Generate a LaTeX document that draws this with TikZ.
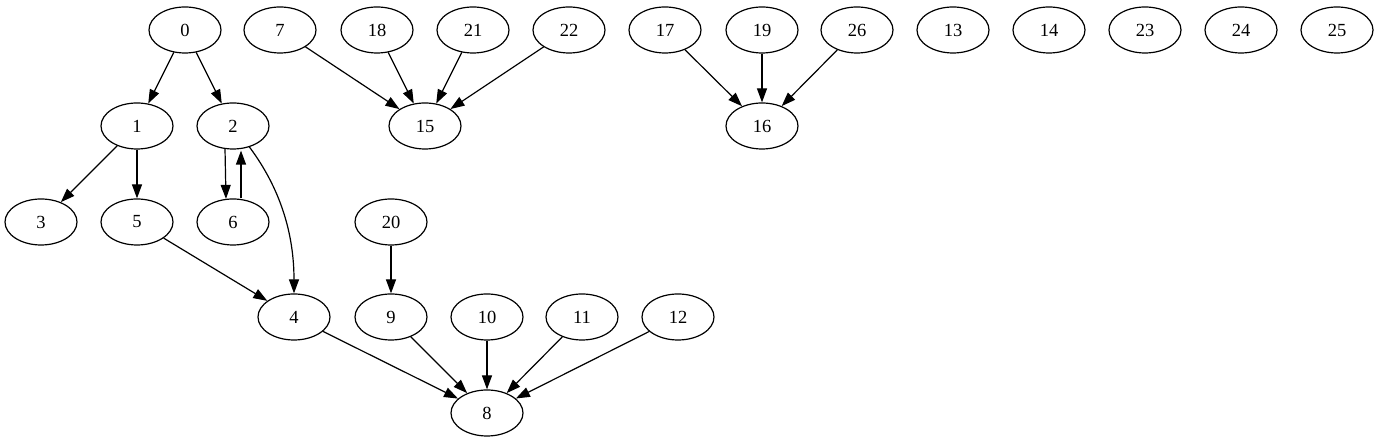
\documentclass[tikz,border=0pt]{standalone}
\usepackage{fontspec}
\setmainfont{Liberation Serif}
\usetikzlibrary{arrows.meta,shapes.geometric}
\begin{document}
\begin{tikzpicture}[x=1pt,y=1pt,
  vtx/.style={draw,ellipse,line width=1.2pt,minimum width=72pt,minimum height=46pt,inner sep=0pt,font=\fontsize{18.5}{20}\selectfont},
  edge/.style={draw,line width=1.2pt,-{Triangle[length=14pt,width=10pt]}}]
\useasboundingbox (0,0) rectangle (1379,443);
\node[vtx] (n0) at (185,413) {0};
\node[vtx] (n7) at (280,413) {7};
\node[vtx] (n18) at (377,413) {18};
\node[vtx] (n21) at (473,413) {21};
\node[vtx] (n22) at (569,413) {22};
\node[vtx] (n17) at (665,413) {17};
\node[vtx] (n19) at (762,413) {19};
\node[vtx] (n26) at (857,413) {26};
\node[vtx] (n13) at (953,413) {13};
\node[vtx] (n14) at (1049,413) {14};
\node[vtx] (n23) at (1145,413) {23};
\node[vtx] (n24) at (1241,413) {24};
\node[vtx] (n25) at (1337,413) {25};
\node[vtx] (n1) at (137,317) {1};
\node[vtx] (n2) at (233,317) {2};
\node[vtx] (n15) at (425,317) {15};
\node[vtx] (n16) at (762,317) {16};
\node[vtx] (n3) at (41,221) {3};
\node[vtx] (n5) at (137,221) {5};
\node[vtx] (n6) at (233,221) {6};
\node[vtx] (n20) at (391,221) {20};
\node[vtx] (n4) at (294,126) {4};
\node[vtx] (n9) at (391,126) {9};
\node[vtx] (n10) at (487,126) {10};
\node[vtx] (n11) at (582,126) {11};
\node[vtx] (n12) at (678,126) {12};
\node[vtx] (n8) at (487,30) {8};
\draw[edge] (n0) -- (n1);
\draw[edge] (n0) -- (n2);
\draw[edge] (n1) -- (n3);
\draw[edge] (n1) -- (n5);
\draw[edge] ([xshift=-8pt,yshift=1pt]n2.south) -- ([xshift=-7pt,yshift=-0.5pt]n6.north);
\draw[edge] ([xshift=8pt,yshift=0.5pt]n6.north) -- ([xshift=8pt,yshift=-1pt]n2.south);
\draw[edge] (n2.-52) .. controls (280,255) and (294,210) .. (n4.north);
\draw[edge] (n5) -- (n4);
\draw[edge] (n7) -- (n15);
\draw[edge] (n18) -- (n15);
\draw[edge] (n21) -- (n15);
\draw[edge] (n22) -- (n15);
\draw[edge] (n17) -- (n16);
\draw[edge] (n19) -- (n16);
\draw[edge] (n26) -- (n16);
\draw[edge] (n20) -- (n9);
\draw[edge] (n4) -- (n8);
\draw[edge] (n9) -- (n8);
\draw[edge] (n10) -- (n8);
\draw[edge] (n11) -- (n8);
\draw[edge] (n12) -- (n8);
\end{tikzpicture}
\end{document}
